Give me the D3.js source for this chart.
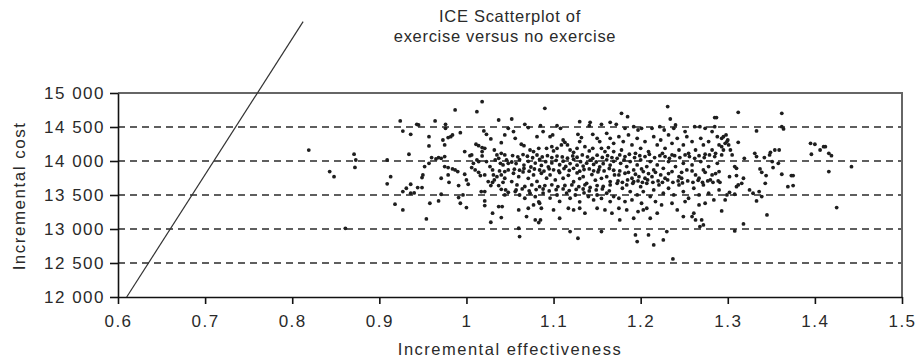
<!DOCTYPE html>
<html>
<head>
<meta charset="utf-8">
<script src="https://cdn.jsdelivr.net/npm/d3@7"></script>
<style>
  body { margin: 0; background: #fff; }
  text { font-family: 'Liberation Sans', Arial, Helvetica, sans-serif; fill: #2a2a2a; }
</style>
</head>
<body>
<div id="chart"></div>
<script>
var titleLines = ['ICE Scatterplot of', 'exercise versus no exercise']
var xLabel = 'Incremental effectiveness'
var yLabel = 'Incremental cost'

var xTicks = [0.6, 0.7, 0.8, 0.9, 1, 1.1, 1.2, 1.3, 1.4, 1.5]
var yTicks = [12000, 12500, 13000, 13500, 14000, 14500, 15000]
var gridCosts = [12500, 13000, 13500, 14000, 14500]

// threshold line (effectiveness, cost) endpoints
var thresholdLine = [[0.61, 12000], [0.8125, 16050]]

// scatter points [effectiveness, cost] left to right
var pointsLeft = [
  [0.819,14160],[0.924,14590],[0.927,14440],[0.871,14100],[0.873,14015],[0.872,13905],[0.843,13845],[0.848,13770],
  [0.909,14015],[0.913,13770],[0.909,13665],[0.927,13550],[0.918,13365],[0.927,13280],[0.861,13010],
  [1.018,14873],[0.987,14751],[1.012,14726],[0.964,14589],[0.943,14540],[0.945,14530],[0.976,14540],[0.976,14481],
  [1.037,14603],[1.048,14481],[0.936,14393],[0.957,14358],[0.957,14221],[0.979,14344],[0.982,14358],[0.973,14309],
  [0.984,14383],[0.993,14417],[1.020,14442],[1.023,14393],[1.028,14324],[1.011,14246],[1.014,14226],[1.018,14197],
  [1.021,14187],[1.040,14270],[0.934,14099],[0.960,14050],[0.965,14030],[0.968,14050],[0.971,14040],[0.975,14065],
  [0.998,14138],[1.004,14079],[1.006,14089],[1.018,14074],[1.018,14138],[1.032,14162],[1.035,14089],[1.040,14113],
  [1.044,14089],[0.957,13966],[0.952,13918],[0.950,13795],[0.949,13756],[0.975,13918],[0.979,13903],[0.984,13883],
  [0.987,13869],[0.990,13844],[0.979,13795],[0.971,13746],[0.980,13687],[0.998,13805],[1.000,13721],[1.002,13658],
  [1.006,13903],[1.010,13869],[1.014,13834],[1.016,13785],[1.023,13991],[1.027,13918],[1.030,13869],[1.025,13697],
  [1.030,13687],[1.032,13721],[1.028,13638],[1.038,13854],[1.040,13795],[1.044,13746],[1.042,13687],[1.037,13638],
  [1.040,13584],[1.045,13574],[1.048,13540],[1.044,13501],[1.042,13942],[1.048,13966],[1.039,13966],[0.936,13658],
  [0.931,13599],[0.936,13526],[0.940,13530],[0.944,13609],[0.949,13609],[0.958,13379],[0.968,13413],[0.971,13511],
  [0.991,13638],[0.991,13462],[0.993,13379],[1.000,13315],[0.996,13501],[1.017,13550],[1.021,13550],[1.021,13413],
  [1.021,13344],[1.030,13232],[1.028,13099],[1.037,13330],[1.041,13330],[1.040,13168],[0.954,13148],[1.012,14016],
  [1.014,13991],[1.008,13966],[1.033,14016],[1.037,14040],[1.046,14016],[1.021,13795],[1.031,13795],[1.035,13770],
  [1.044,13844],[1.048,13869],[0.975,14236],[1.044,14383]
]

var pointsMid = [
  [1.090,14775],[1.052,14618],[1.067,14540],[1.071,14491],[1.085,14520],[1.104,14520],[1.108,14481],[1.130,14579],
  [1.142,14569],[1.141,14520],[1.155,14540],[1.165,14569],[1.054,14432],[1.056,14334],[1.088,14432],[1.096,14358],
  [1.099,14383],[1.081,14358],[1.111,14309],[1.113,14275],[1.116,14236],[1.109,14236],[1.128,14393],[1.132,14344],
  [1.130,14285],[1.145,14393],[1.150,14334],[1.153,14285],[1.161,14407],[1.165,14334],[1.169,14260],[1.063,14246],
  [1.066,14226],[1.073,14162],[1.077,14138],[1.083,14187],[1.092,14187],[1.098,14211],[1.100,14148],[1.104,14187],
  [1.119,14162],[1.123,14128],[1.127,14187],[1.136,14211],[1.141,14148],[1.145,14187],[1.155,14187],[1.159,14138],
  [1.163,14197],[1.169,14138],
  [1.052,13985],[1.057,13962],[1.061,14020],[1.066,13940],[1.071,13995],[1.074,13912],[1.079,13970],[1.084,14022],
  [1.086,13935],[1.091,13990],[1.094,13915],[1.098,13972],[1.103,14010],[1.107,13945],[1.111,13998],[1.114,13920],
  [1.119,13962],[1.123,14025],[1.127,13938],[1.131,13990],[1.134,13925],[1.138,13968],[1.142,14012],[1.146,13950],
  [1.149,13985],[1.153,13915],[1.157,13960],[1.161,14018],[1.165,13940],[1.169,13995],
  [1.053,14080],[1.059,14062],[1.065,14095],[1.070,14070],[1.076,14048],[1.081,14088],[1.087,14060],[1.093,14078],
  [1.098,14050],[1.104,14072],[1.110,14060],[1.116,14042],[1.122,14075],[1.127,14055],[1.133,14090],[1.139,14062],
  [1.145,14040],[1.150,14085],[1.156,14052],[1.162,14078],[1.167,14050],
  [1.055,13880],[1.061,13865],[1.066,13890],[1.072,13850],[1.078,13882],[1.084,13868],[1.089,13852],[1.095,13885],
  [1.100,13870],[1.106,13855],[1.112,13888],[1.118,13862],[1.123,13893],[1.130,13850],[1.135,13875],[1.141,13884],
  [1.146,13856],[1.152,13872],[1.158,13854],[1.164,13890],[1.169,13864],
  [1.054,13820],[1.060,13770],[1.065,13840],[1.071,13745],[1.077,13795],[1.081,13700],[1.086,13820],[1.092,13748],
  [1.096,13795],[1.102,13722],[1.107,13830],[1.111,13746],[1.117,13790],[1.123,13695],[1.127,13825],[1.130,13742],
  [1.134,13770],[1.138,13672],[1.144,13800],[1.148,13718],[1.151,13840],[1.155,13745],[1.161,13770],[1.165,13698],
  [1.170,13795],
  [1.052,13697],[1.058,13648],[1.067,13625],[1.075,13648],[1.084,13622],[1.090,13638],[1.098,13650],[1.105,13624],
  [1.113,13640],[1.121,13648],[1.129,13622],[1.136,13650],[1.142,13610],[1.150,13638],[1.157,13625],[1.165,13648],
  [1.057,13575],[1.064,13590],[1.072,13562],[1.080,13580],[1.088,13588],[1.095,13560],[1.103,13578],[1.111,13590],
  [1.118,13565],[1.126,13582],[1.134,13588],[1.141,13560],[1.149,13575],[1.156,13590],[1.164,13562],
  [1.056,13550],[1.061,13500],[1.067,13452],[1.073,13526],[1.079,13475],[1.083,13400],[1.088,13528],[1.096,13455],
  [1.104,13500],[1.107,13405],[1.115,13528],[1.119,13452],[1.125,13500],[1.130,13400],[1.135,13530],[1.140,13478],
  [1.146,13428],[1.150,13500],[1.155,13450],[1.161,13526],[1.165,13403],[1.169,13477],
  [1.060,13280],[1.071,13305],[1.077,13354],[1.084,13379],[1.086,13305],[1.100,13280],[1.107,13158],[1.117,13305],
  [1.123,13281],[1.130,13305],[1.136,13232],[1.150,13305],[1.159,13281],[1.167,13232],[1.069,13183],[1.079,13133],
  [1.083,13094],[1.085,13133],[1.060,13011],[1.061,12888],[1.119,12962],[1.128,12864],[1.155,12962]
]

var pointsCore = [
  [1.231,14800],[1.178,14701],[1.185,14652],[1.234,14618],[1.285,14638],[1.287,14638],[1.172,14540],[1.182,14481],
  [1.192,14505],[1.197,14456],[1.201,14481],[1.213,14481],[1.222,14505],[1.227,14456],[1.240,14530],[1.238,14481],
  [1.262,14505],[1.268,14505],[1.274,14481],[1.282,14432],[1.285,14505],[1.251,14432],
  [1.175,14358],[1.180,14285],[1.186,14383],[1.190,14236],[1.196,14334],[1.200,14187],[1.205,14285],[1.209,14138],
  [1.215,14358],[1.219,14236],[1.223,14309],[1.228,14187],[1.232,14383],[1.236,14260],[1.242,14334],[1.244,14162],
  [1.249,14236],[1.253,14358],[1.259,14285],[1.263,14162],[1.269,14334],[1.272,14236],[1.278,14285],[1.282,14162],
  [1.288,14358],[1.290,14236],[1.178,14162],[1.194,14113],[1.225,14113],[1.236,14089],[1.255,14113],[1.274,14099],
  [1.286,14113],
  [1.173,14040],[1.177,13966],[1.181,14016],[1.184,13918],[1.188,13991],[1.192,13869],[1.196,13942],[1.200,14016],
  [1.203,13844],[1.207,13918],[1.211,13991],[1.215,13869],[1.219,13942],[1.223,13795],[1.226,13893],[1.232,13991],
  [1.236,13844],[1.240,13918],[1.244,13770],[1.249,13966],[1.253,13869],[1.259,13942],[1.263,13795],[1.269,13991],
  [1.272,13869],[1.278,13918],[1.282,13795],[1.288,13966],[1.290,13844],[1.175,13795],[1.182,13820],[1.190,13746],
  [1.198,13770],[1.205,13746],[1.213,13770],[1.228,13746],[1.247,13746],[1.267,13746],[1.280,13721],
  [1.173,13672],[1.179,13599],[1.184,13648],[1.188,13550],[1.192,13697],[1.196,13501],[1.200,13623],[1.203,13550],
  [1.207,13672],[1.211,13477],[1.215,13574],[1.221,13648],[1.226,13526],[1.232,13599],[1.238,13501],[1.244,13648],
  [1.249,13550],[1.255,13452],[1.261,13599],[1.267,13501],[1.272,13648],[1.278,13526],[1.284,13428],[1.290,13574],
  [1.175,13452],[1.182,13403],[1.190,13428],[1.201,13379],[1.217,13403],[1.224,13354],[1.236,13379],[1.251,13403],
  [1.267,13354],[1.274,13379],
  [1.175,13305],[1.184,13281],[1.176,13133],[1.192,13158],[1.197,13256],[1.203,13281],[1.207,13305],[1.211,13158],
  [1.219,13232],[1.242,13281],[1.249,13183],[1.261,13232],[1.263,13133],[1.259,13183],[1.270,13133],[1.272,13060],
  [1.268,13036],[1.194,12913],[1.196,12815],[1.209,12913],[1.215,12766],[1.226,12839],[1.230,12962],[1.237,12560],
  [1.176,14089],[1.182,14065],[1.187,14099],[1.193,14050],[1.199,14079],[1.205,14065],[1.210,14099],[1.216,14050],
  [1.222,14079],[1.228,14065],[1.233,14040],[1.239,14079],[1.245,14050],[1.251,14089],[1.256,14065],[1.262,14040],
  [1.267,14079],[1.273,14050],[1.279,14089],[1.285,14065],
  [1.174,13707],[1.179,13687],[1.185,13721],[1.191,13672],[1.197,13707],[1.202,13687],[1.208,13721],[1.214,13687],
  [1.220,13707],[1.225,13687],[1.231,13721],[1.237,13687],[1.243,13707],[1.248,13677],[1.254,13707],[1.260,13687],
  [1.266,13717],[1.271,13687],[1.277,13707],[1.283,13687],[1.289,13707],
  [1.176,13854],[1.186,13834],[1.194,13805],[1.201,13883],[1.209,13815],[1.217,13834],[1.232,13815],[1.247,13834],
  [1.259,13854],[1.274,13834],[1.286,13815]
]

var pointsRight = [
  [1.312,14716],[1.362,14701],[1.333,14442],[1.362,14505],[1.364,14471],[1.293,14334],[1.295,14358],[1.298,14383],
  [1.300,14309],[1.297,14260],[1.301,14236],[1.293,14211],[1.303,14162],[1.295,14162],[1.305,14089],[1.293,14089],
  [1.299,14285],[1.312,14275],[1.319,14040],[1.331,14113],[1.333,14065],[1.342,14050],[1.348,14089],[1.349,14128],
  [1.354,14162],[1.359,14162],[1.351,13991],[1.352,13903],[1.358,13966],[1.308,13918],[1.310,13893],[1.337,13883],
  [1.339,13834],[1.344,13785],[1.343,13672],[1.362,13805],[1.373,13785],[1.375,13785],[1.302,13770],[1.310,13785],
  [1.318,13746],[1.316,13672],[1.312,13648],[1.310,13623],[1.369,13623],[1.375,13638],[1.291,13687],[1.302,13540],
  [1.299,13501],[1.297,13428],[1.308,13511],[1.325,13574],[1.329,13526],[1.333,13413],[1.336,13550],[1.339,13477],
  [1.293,13266],[1.345,13207],[1.318,13074],[1.308,12971],[1.395,14260],[1.400,14246],[1.406,14162],[1.410,14211],
  [1.396,14099],[1.412,14211],[1.416,14113],[1.419,14079],[1.416,13844],[1.442,13917],[1.425,13315]
]

var points = pointsLeft.concat(pointsMid, pointsCore, pointsRight)

var width = 918
var height = 360

var svg = d3
  .select('#chart')
  .append('svg')
  .attr('width', width)
  .attr('height', height)

var x = d3.scaleLinear().domain([0.6, 1.5]).range([118, 902])
var y = d3.scaleLinear().domain([12000, 15000]).range([297, 93])

// dashed gridlines
svg.append('g')
  .selectAll('line')
  .data(gridCosts)
  .join('line')
  .attr('x1', x(0.6))
  .attr('x2', x(1.5))
  .attr('y1', d => y(d))
  .attr('y2', d => y(d))
  .attr('stroke', '#2a2a2a')
  .attr('stroke-width', 1.4)
  .attr('stroke-dasharray', '7,5')

// top and right frame
svg.append('path')
  .attr('d', d3.line()([[x(0.6), y(15000)], [x(1.5), y(15000)], [x(1.5), y(12000)]]))
  .attr('fill', 'none')
  .attr('stroke', '#666')
  .attr('stroke-width', 2)

// points
svg.append('g')
  .selectAll('circle')
  .data(points)
  .join('circle')
  .attr('cx', d => x(d[0]))
  .attr('cy', d => y(d[1]))
  .attr('r', 1.9)
  .attr('fill', '#1e1e1e')

// threshold line
svg.append('path')
  .attr('d', d3.line().x(d => x(d[0])).y(d => y(d[1]))(thresholdLine))
  .attr('fill', 'none')
  .attr('stroke', '#333')
  .attr('stroke-width', 1.2)

var fmtCost = d => d3.format(',')(d).replace(',', ' ')
var fmtEff = d => String(d)

svg.append('g')
  .attr('transform', 'translate(' + x(0.6) + ',0)')
  .call(d3.axisLeft(y).tickValues(yTicks).tickFormat(fmtCost).tickSize(8).tickPadding(5).tickSizeOuter(0))
svg.append('g')
  .attr('transform', 'translate(0,' + y(12000) + ')')
  .call(d3.axisBottom(x).tickValues(xTicks).tickFormat(fmtEff).tickSize(7).tickPadding(11).tickSizeOuter(0))

svg.selectAll('.domain, .tick line').attr('stroke', '#111').attr('stroke-width', 1.6)
svg.selectAll('.tick text')
  .attr('font-size', 17)
  .attr('fill', '#2a2a2a')
  .style('letter-spacing', '1.5px')
  .style('font-family', "'Liberation Sans', Arial, sans-serif")

// title
svg.append('g')
  .selectAll('text')
  .data(titleLines)
  .join('text')
  .attr('x', (d, i) => (i == 0 ? 510 : 505))
  .attr('y', (d, i) => 22 + i * 20)
  .attr('text-anchor', 'middle')
  .attr('font-size', 16.5)
  .style('letter-spacing', '0.7px')
  .text(d => d)

svg.append('text')
  .attr('x', 510)
  .attr('y', 355)
  .attr('text-anchor', 'middle')
  .attr('font-size', 16.5)
  .style('letter-spacing', '1.5px')
  .text(xLabel)

svg.append('text')
  .attr('transform', 'translate(25,196) rotate(-90)')
  .attr('text-anchor', 'middle')
  .attr('font-size', 17)
  .style('letter-spacing', '1.5px')
  .text(yLabel)
</script>
</body>
</html>
